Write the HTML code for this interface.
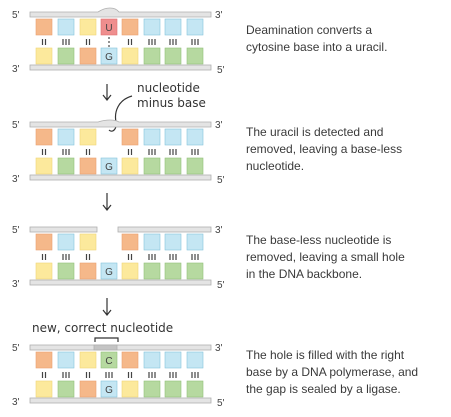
<!DOCTYPE html>
<html><head><style>
html,body{margin:0;padding:0;background:#fff;}
svg{display:block;font-family:"Liberation Sans",sans-serif;}
.t{font-size:12px;fill:#3a3a3a;}
.l{font-size:10px;fill:#444;}
.h{font-size:12px;fill:#333;font-family:"DejaVu Sans",sans-serif;}
.o{fill:#f5b88a;stroke:#eaa070;stroke-width:.6}
.b{fill:#c4e6f3;stroke:#86c4dc;stroke-width:.6}
.y{fill:#fce99c;stroke:#f0d678;stroke-width:.6}
.g{fill:#b6d9a0;stroke:#92c07a;stroke-width:.6}
.bar{fill:#e4e4e4;stroke:#b0b0b0;stroke-width:.8}
.bd{stroke:#444;stroke-width:1.2}
</style></head><body>
<svg width="451" height="417" viewBox="0 0 451 417">
<defs>
<g id="c">
<rect class="o" x="36" y="7" width="16" height="16"/>
<rect class="b" x="58" y="7" width="16" height="16"/>
<rect class="y" x="80" y="7" width="16" height="16"/>
<rect class="o" x="122" y="7" width="16" height="16"/>
<rect class="b" x="144" y="7" width="16" height="16"/>
<rect class="b" x="165" y="7" width="16" height="16"/>
<rect class="b" x="187" y="7" width="16" height="16"/>
<rect class="y" x="36" y="36" width="16" height="16"/>
<rect class="g" x="58" y="36" width="16" height="16"/>
<rect class="o" x="80" y="36" width="16" height="16"/>
<rect class="b" x="101" y="36" width="16" height="16"/>
<rect class="y" x="122" y="36" width="16" height="16"/>
<rect class="g" x="144" y="36" width="16" height="16"/>
<rect class="g" x="165" y="36" width="16" height="16"/>
<rect class="g" x="187" y="36" width="16" height="16"/>
<text x="109" y="48" text-anchor="middle" style="font-size:10px;fill:#444">G</text>
<g class="bd">
<path d="M42.5 27v6M45.5 27v6"/>
<path d="M63 27v6M66 27v6M69 27v6"/>
<path d="M86.5 27v6M89.5 27v6"/>
<path d="M128.5 27v6M131.5 27v6"/>
<path d="M149 27v6M152 27v6M155 27v6"/>
<path d="M170 27v6M173 27v6M176 27v6"/>
<path d="M192 27v6M195 27v6M198 27v6"/>
</g>
<rect class="bar" x="30" y="53" width="181" height="5"/>
<text class="l" x="12" y="6">5'</text><text class="l" x="215" y="6">3'</text>
<text class="l" x="12" y="60">3'</text><text class="l" x="217" y="61">5'</text>
</g>
</defs>

<g transform="translate(0,12)">
<use href="#c"/>
<path class="bar" d="M30 0H98Q104 -4 110 -4Q116 -4 119 0H211V5H30Z"/>
<rect x="101" y="7" width="16" height="16" fill="#ef8e8e" stroke="#e07070" stroke-width=".6"/>
<text x="109" y="19" text-anchor="middle" style="font-size:10px;fill:#444">U</text>
<circle cx="109" cy="26" r=".9" fill="#444"/><circle cx="109" cy="30" r=".9" fill="#444"/><circle cx="109" cy="34" r=".9" fill="#444"/>
</g>
<text class="t" x="246" y="34">Deamination converts a</text>
<text class="t" x="246" y="51">cytosine base into a uracil.</text>

<path d="M107 84v15M103 95l4 5 4-5" stroke="#333" stroke-width="1.2" fill="none"/>
<text class="h" x="137" y="92">nucleotide</text>
<text class="h" x="137" y="107">minus base</text>
<path d="M132 96C118 100 114 112 116 122C117 130 112 133 109 130" stroke="#333" stroke-width="1.2" fill="none"/>

<g transform="translate(0,122)">
<use href="#c"/>
<path class="bar" d="M30 0H98Q104 -2 110 -2Q116 -2 119 0H211V5H30Z"/>
</g>
<text class="t" x="246" y="136">The uracil is detected and</text>
<text class="t" x="246" y="153">removed, leaving a base-less</text>
<text class="t" x="246" y="170">nucleotide.</text>

<path d="M107 193v16M103 205l4 5 4-5" stroke="#333" stroke-width="1.2" fill="none"/>

<g transform="translate(0,227)">
<use href="#c"/>
<rect class="bar" x="30" y="0" width="67" height="5"/>
<rect class="bar" x="118" y="0" width="93" height="5"/>
</g>
<text class="t" x="246" y="244">The base-less nucleotide is</text>
<text class="t" x="246" y="261">removed, leaving a small hole</text>
<text class="t" x="246" y="278">in the DNA backbone.</text>

<path d="M107 298v16M103 310l4 5 4-5" stroke="#333" stroke-width="1.2" fill="none"/>
<text class="h" x="32" y="332">new, correct nucleotide</text>
<path d="M95 342v-4h23v4" stroke="#333" stroke-width="1.2" fill="none"/>

<g transform="translate(0,345)">
<use href="#c"/>
<rect class="bar" x="30" y="0" width="181" height="5"/>
<rect x="94" y="0" width="23" height="5" fill="#c4c4c4" stroke="#b0b0b0" stroke-width=".8"/>
<rect class="g" x="101" y="7" width="16" height="16"/>
<text x="109" y="19" text-anchor="middle" style="font-size:10px;fill:#444">C</text>
<path class="bd" d="M106 27v6M109 27v6M112 27v6"/>
</g>
<text class="t" x="246" y="359">The hole is filled with the right</text>
<text class="t" x="246" y="376">base by a DNA polymerase, and</text>
<text class="t" x="246" y="393">the gap is sealed by a ligase.</text>
</svg>
</body></html>
